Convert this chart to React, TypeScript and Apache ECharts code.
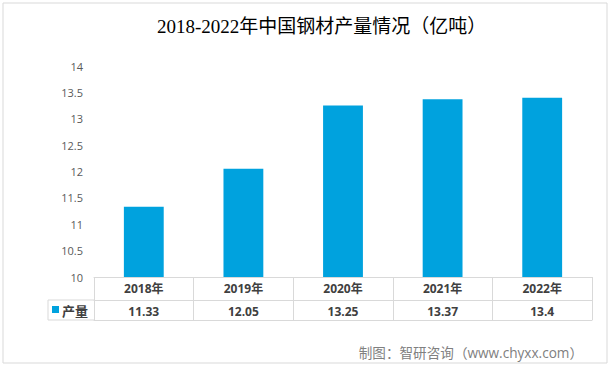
import React, { useEffect, useRef } from "react";
import * as echarts from "echarts";

const categories = ["2018年", "2019年", "2020年", "2021年", "2022年"];
const values = [11.33, 12.05, 13.25, 13.37, 13.4];
const seriesName = "产量";
const titleText = "2018-2022年中国钢材产量情况（亿吨）";
const sourceText = "制图：智研咨询（www.chyxx.com）";
const yMin = 10;
const yMax = 14;
const yStep = 0.5;

const W = 611;
const H = 367;
const GL = 94;
const GR = 19;
const GT = 66;
const GB = 90;
const LINE = "#d9d9d9";
const BLUE = "#00A2DE";

export default function App() {
  const ref = useRef<HTMLDivElement>(null);
  useEffect(() => {
    document.body.style.margin = "0";
    const chart = echarts.init(ref.current!, null, { renderer: "svg" });
    const axisY = H - GB;
    const row1 = axisY + 23;
    const row2 = axisY + 43;
    const cellLeft = 48;
    chart.setOption({
      animation: false,
      backgroundColor: "#fff",
      title: {
        text: titleText,
        left: 152,
        top: 12,
        textStyle: {
          fontFamily: "'Liberation Serif', 'Noto Sans CJK SC', serif",
          fontSize: 19,
          fontWeight: "normal",
          color: "#000",
        },
      },
      grid: { left: GL, right: GR, top: GT, bottom: GB, containLabel: false },
      xAxis: [
        {
          type: "category",
          data: categories,
          position: "bottom",
          axisLine: { show: true, lineStyle: { color: LINE, width: 1 } },
          axisTick: { show: true, length: 43, interval: 0, lineStyle: { color: LINE } },
          axisLabel: {
            margin: 5,
            fontSize: 12,
            fontWeight: "bold",
            color: "#404040",
            fontFamily: "'Open Sans', 'Noto Sans CJK SC', sans-serif",
          },
        },
        {
          type: "category",
          data: categories,
          position: "bottom",
          offset: 23,
          axisLine: { show: true, lineStyle: { color: LINE, width: 1 } },
          axisTick: { show: false },
          axisLabel: {
            margin: 5,
            fontSize: 12,
            fontWeight: "bold",
            color: "#404040",
            fontFamily: "'Open Sans', sans-serif",
            formatter: (_v: string, i: number) => String(values[i]),
          },
        },
        {
          type: "category",
          data: categories,
          position: "bottom",
          offset: 43,
          axisLine: { show: true, lineStyle: { color: LINE, width: 1 } },
          axisTick: { show: false },
          axisLabel: { show: false },
        },
      ],
      yAxis: {
        type: "value",
        min: yMin,
        max: yMax,
        interval: yStep,
        axisLine: { show: false },
        axisTick: { show: false },
        splitLine: { show: false },
        axisLabel: {
          margin: 11,
          fontSize: 11,
          color: "#595959",
          fontFamily: "'Open Sans', sans-serif",
        },
      },
      series: [
        {
          name: seriesName,
          type: "bar",
          data: values,
          barWidth: "40%",
          itemStyle: { color: BLUE },
          xAxisIndex: 0,
        },
      ],
      graphic: [
        {
          type: "rect",
          shape: { x: 3, y: 3, width: W - 7, height: H - 7 },
          style: { fill: "none", stroke: LINE, lineWidth: 1 },
          silent: true,
        },
        {
          type: "line",
          shape: { x1: cellLeft, y1: row1, x2: GL, y2: row1 },
          style: { stroke: LINE, lineWidth: 1 },
        },
        {
          type: "line",
          shape: { x1: cellLeft, y1: row2, x2: GL, y2: row2 },
          style: { stroke: LINE, lineWidth: 1 },
        },
        {
          type: "line",
          shape: { x1: cellLeft, y1: row1, x2: cellLeft, y2: row2 },
          style: { stroke: LINE, lineWidth: 1 },
        },
        {
          type: "rect",
          shape: { x: 52, y: row1 + 6, width: 7, height: 7 },
          style: { fill: BLUE },
        },
        {
          type: "text",
          x: 62,
          y: row1 + 10,
          style: {
            text: seriesName,
            fontSize: 13,
            fontWeight: "bold",
            fill: "#404040",
            fontFamily: "'Noto Sans CJK SC', sans-serif",
            verticalAlign: "middle",
          },
        },
        {
          type: "text",
          x: 583,
          y: 352,
          style: {
            text: sourceText,
            fontSize: 13.6,
            fill: "#808080",
            fontFamily: "'Open Sans', 'Noto Sans CJK SC', sans-serif",
            align: "right",
            verticalAlign: "middle",
          },
        },
      ],
    });
    return () => chart.dispose();
  }, []);
  return <div ref={ref} style={{ width: W, height: H }} />;
}
